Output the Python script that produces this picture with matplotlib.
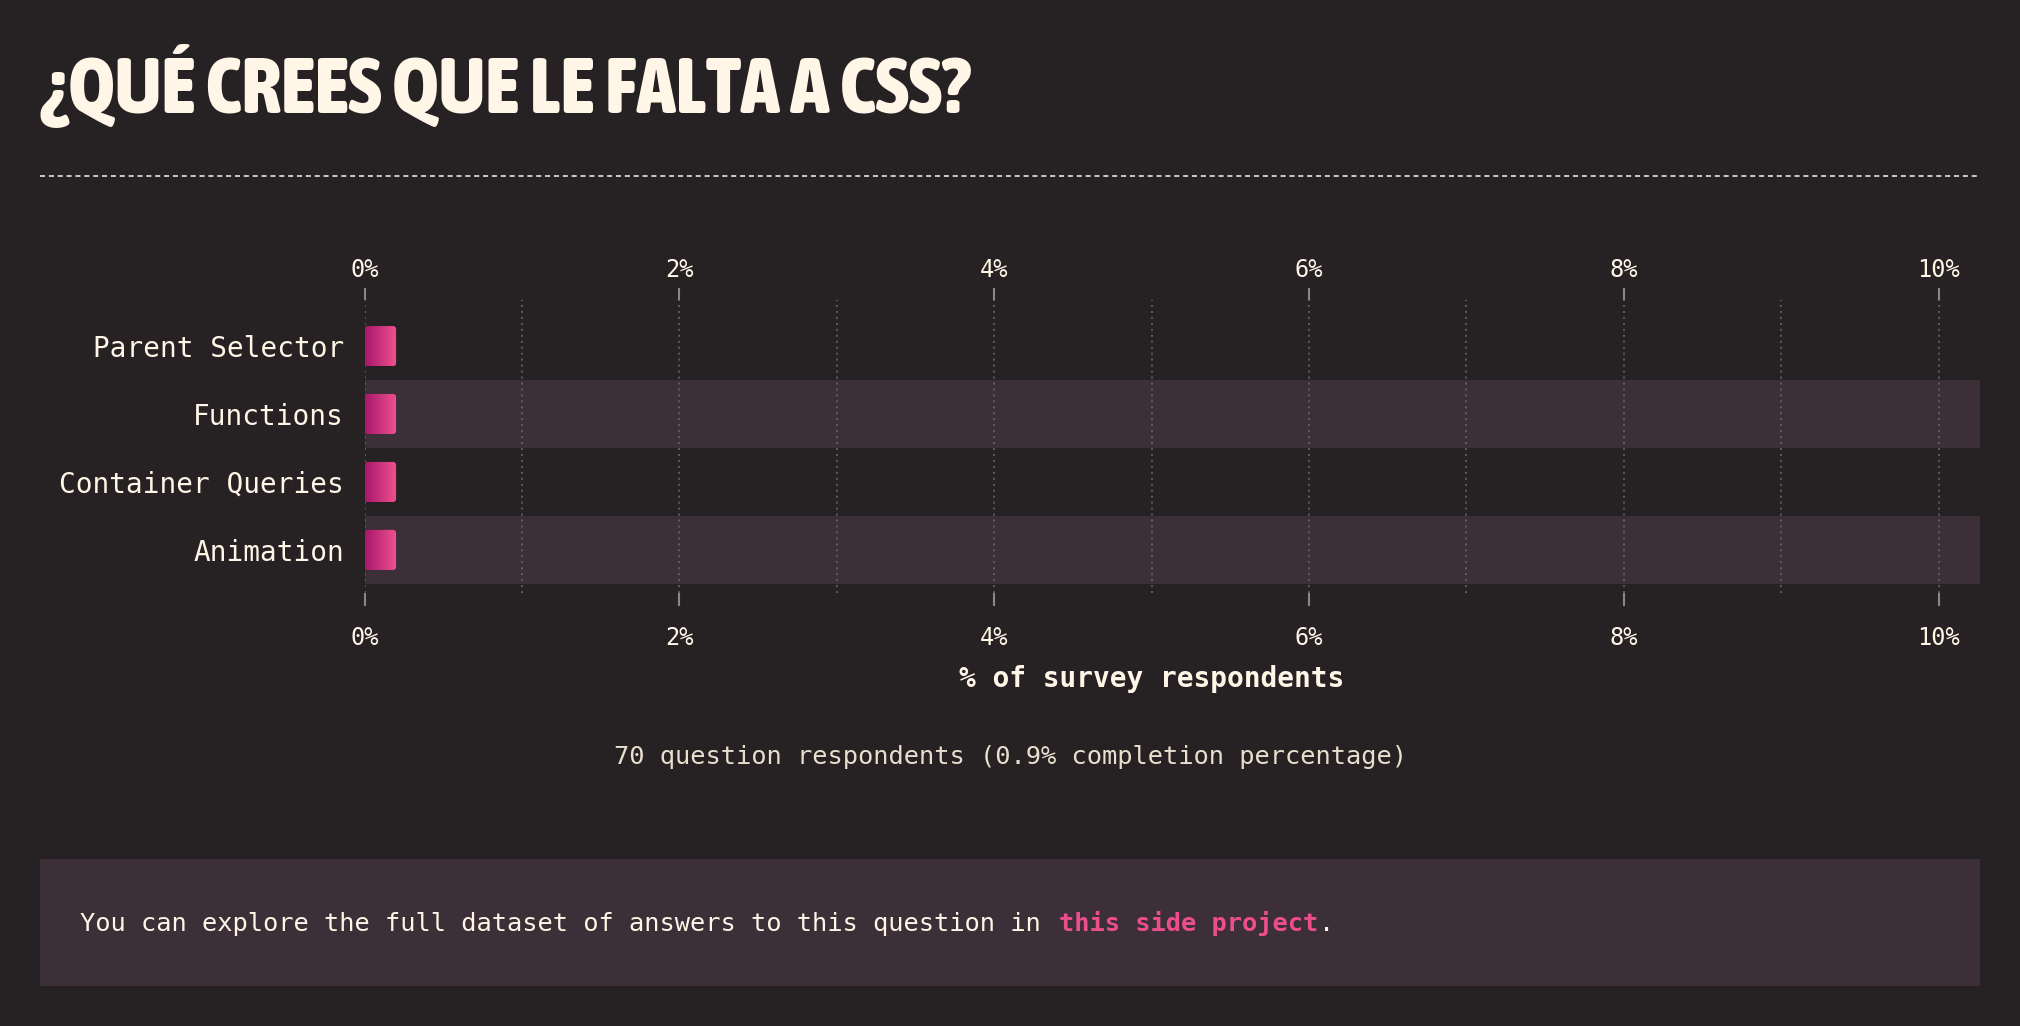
import numpy as np
import matplotlib
matplotlib.use("Agg")
import matplotlib.pyplot as plt
from matplotlib import font_manager as fm
from matplotlib.patches import Rectangle, FancyBboxPatch
from matplotlib.colors import LinearSegmentedColormap
from matplotlib.lines import Line2D
from matplotlib.transforms import offset_copy

# ---------------- data ----------------
title = "¿QUÉ CREES QUE LE FALTA A CSS?"
categories = ["Parent Selector", "Functions", "Container Queries", "Animation"]
values = [0.2, 0.2, 0.2, 0.2]
xticks = [0, 2, 4, 6, 8, 10]
xtick_labels = ["0%", "2%", "4%", "6%", "8%", "10%"]
gridlines = [0, 1, 2, 3, 4, 5, 6, 7, 8, 9, 10]
x_label = "% of survey respondents"
note = "70 question respondents (0.9% completion percentage)"
footer_pre = "You can explore the full dataset of answers to this question in "
footer_link = "this side project"
footer_post = "."

# ---------------- style ----------------
BG = "#262223"
BAND = "#3d2f37"
GRID = "#6e6a6b"
TICK = "#8a8688"
TEXT = "#fff6e8"
NOTE = "#e9dfce"
PINK = "#ec4e8c"
C0, C1 = "#a8176b", "#ef5290"
MONO = "DejaVu Sans Mono"

plt.rcParams["font.family"] = [MONO, "DejaVu Sans"]

W, H, DPI = 2020, 1026, 100
fig = plt.figure(figsize=(W / DPI, H / DPI), dpi=DPI, facecolor=BG)


def fx(px):
    return px / W


def fy(py):
    return 1 - py / H


# ---------------- title font choice ----------------
def pick_title_font():
    rank = {"ultra-condensed": 0, "extra-condensed": 1, "condensed": 2,
            "semi-condensed": 3, "narrow": 2}
    wmap = {"normal": 400, "regular": 400, "book": 400, "medium": 500,
            "semibold": 600, "demibold": 600, "bold": 700, "extra bold": 800,
            "heavy": 800, "black": 900}
    best = None
    for f in fm.fontManager.ttflist:
        st = f.stretch if isinstance(f.stretch, str) else str(f.stretch)
        nm = f.name.lower() + " " + f.fname.lower()
        r = rank.get(st, None)
        if r is None:
            if "extracondensed" in nm or "extra condensed" in nm:
                r = 1
            elif "semicondensed" in nm or "semi condensed" in nm:
                r = 3
            elif "condensed" in nm or "narrow" in nm:
                r = 2
        if r is None:
            continue
        w = f.weight
        if isinstance(w, str):
            w = wmap.get(w.lower(), 400)
        if w < 650:
            continue
        if "italic" in f.fname.lower() or f.style != "normal":
            continue
        score = (r, abs(w - 800))
        if best is None or score < best[0]:
            best = (score, f.fname)
    if best:
        return fm.FontProperties(fname=best[1])
    return fm.FontProperties(family="DejaVu Sans", weight="bold")


title_fp = pick_title_font()

# ---------------- main axes ----------------
ax = fig.add_axes([fx(364.6), fy(593), (1980 - 364.6) / W, (593 - 300) / H])
ax.set_facecolor("none")
for s in ax.spines.values():
    s.set_visible(False)

n = len(categories)
for i in range(n):
    if i % 2 == 1:
        ax.axhspan(i - 0.5, i + 0.5, color=BAND, lw=0, zorder=0)

ax.vlines(gridlines, 0, 1, transform=ax.get_xaxis_transform(), colors=GRID,
          linewidth=1.1, linestyles=[(0, (1.3, 2.6))], zorder=1)

bars = ax.barh(range(n), values, height=0.59, color="none", zorder=2)
grad = np.linspace(0, 1, 256).reshape(1, -1)
cmap = LinearSegmentedColormap.from_list("pinkgrad", [C0, C1])
for b in bars:
    x0, y0, w, h = b.get_x(), b.get_y(), b.get_width(), b.get_height()
    im = ax.imshow(grad, cmap=cmap, extent=(x0, x0 + w, y0 + h, y0),
                   aspect="auto", zorder=3, interpolation="bilinear")
    clip = FancyBboxPatch((x0, y0), w, h,
                          boxstyle="round,pad=0,rounding_size=0.019",
                          mutation_aspect=2.32, transform=ax.transData,
                          facecolor="none", edgecolor="none")
    ax.add_patch(clip)
    im.set_clip_path(clip)

xmax = 10.263
ax.set_xlim(0, xmax)
ax.set_ylim(3.634, -0.678)

ax.set_xticks(xticks, xtick_labels)
ax.tick_params(axis="x", which="major", bottom=True, top=False, length=9,
               width=1.5, color=TICK, direction="out", pad=14.5,
               labelsize=17, labelcolor=TEXT)
ax.set_yticks(range(n), categories)
ax.tick_params(axis="y", length=0, pad=15, labelsize=20, labelcolor=TEXT)

secax = ax.secondary_xaxis("top")
for s in secax.spines.values():
    s.set_visible(False)
secax.set_xticks(xticks, xtick_labels)
secax.tick_params(axis="x", length=9, width=1.5, color=TICK, direction="out",
                  pad=4, labelsize=17, labelcolor=TEXT)

ax.set_xlabel(x_label, fontsize=20, fontweight="bold", color=TEXT, va="center")
ax.xaxis.set_label_coords(5 / xmax, (593 - 679) / 293)

# ---------------- other text ----------------
t_title = fig.text(fx(40), fy(113), title, fontproperties=title_fp,
                   fontsize=62, color=TEXT, va="baseline", ha="left")

fig.add_artist(Line2D([fx(40), fx(1980)], [fy(176), fy(176)],
                      transform=fig.transFigure, color=TEXT, lw=1.1,
                      linestyle=(0, (3.3, 2.5))))

fig.text(0.5, fy(757), note, ha="center", va="center", fontsize=18.3,
         color=NOTE)

fig.add_artist(Rectangle((fx(40), fy(985.6)), fx(1980) - fx(40),
                         (985.6 - 859) / H, transform=fig.transFigure,
                         facecolor=BAND, edgecolor="none", zorder=0))

fs = 18.3
cw = 0.60205 * fs
fig.text(fx(80), fy(931), footer_pre, fontsize=fs, color=TEXT, va="baseline")
tr1 = offset_copy(fig.transFigure, fig=fig, x=len(footer_pre) * cw, y=0,
                  units="points")
fig.text(fx(80), fy(931), footer_link, fontsize=fs, color=PINK,
         fontweight="bold", va="baseline", transform=tr1)
tr2 = offset_copy(fig.transFigure, fig=fig,
                  x=(len(footer_pre) + len(footer_link)) * cw, y=0,
                  units="points")
fig.text(fx(80), fy(931), footer_post, fontsize=fs, color=TEXT,
         va="baseline", transform=tr2)

# fit title width
fig.canvas.draw()
bb = t_title.get_window_extent()
if bb.width > 930:
    t_title.set_fontsize(62 * 930 / bb.width)

fig.savefig("out.png", dpi=DPI, facecolor=BG)
